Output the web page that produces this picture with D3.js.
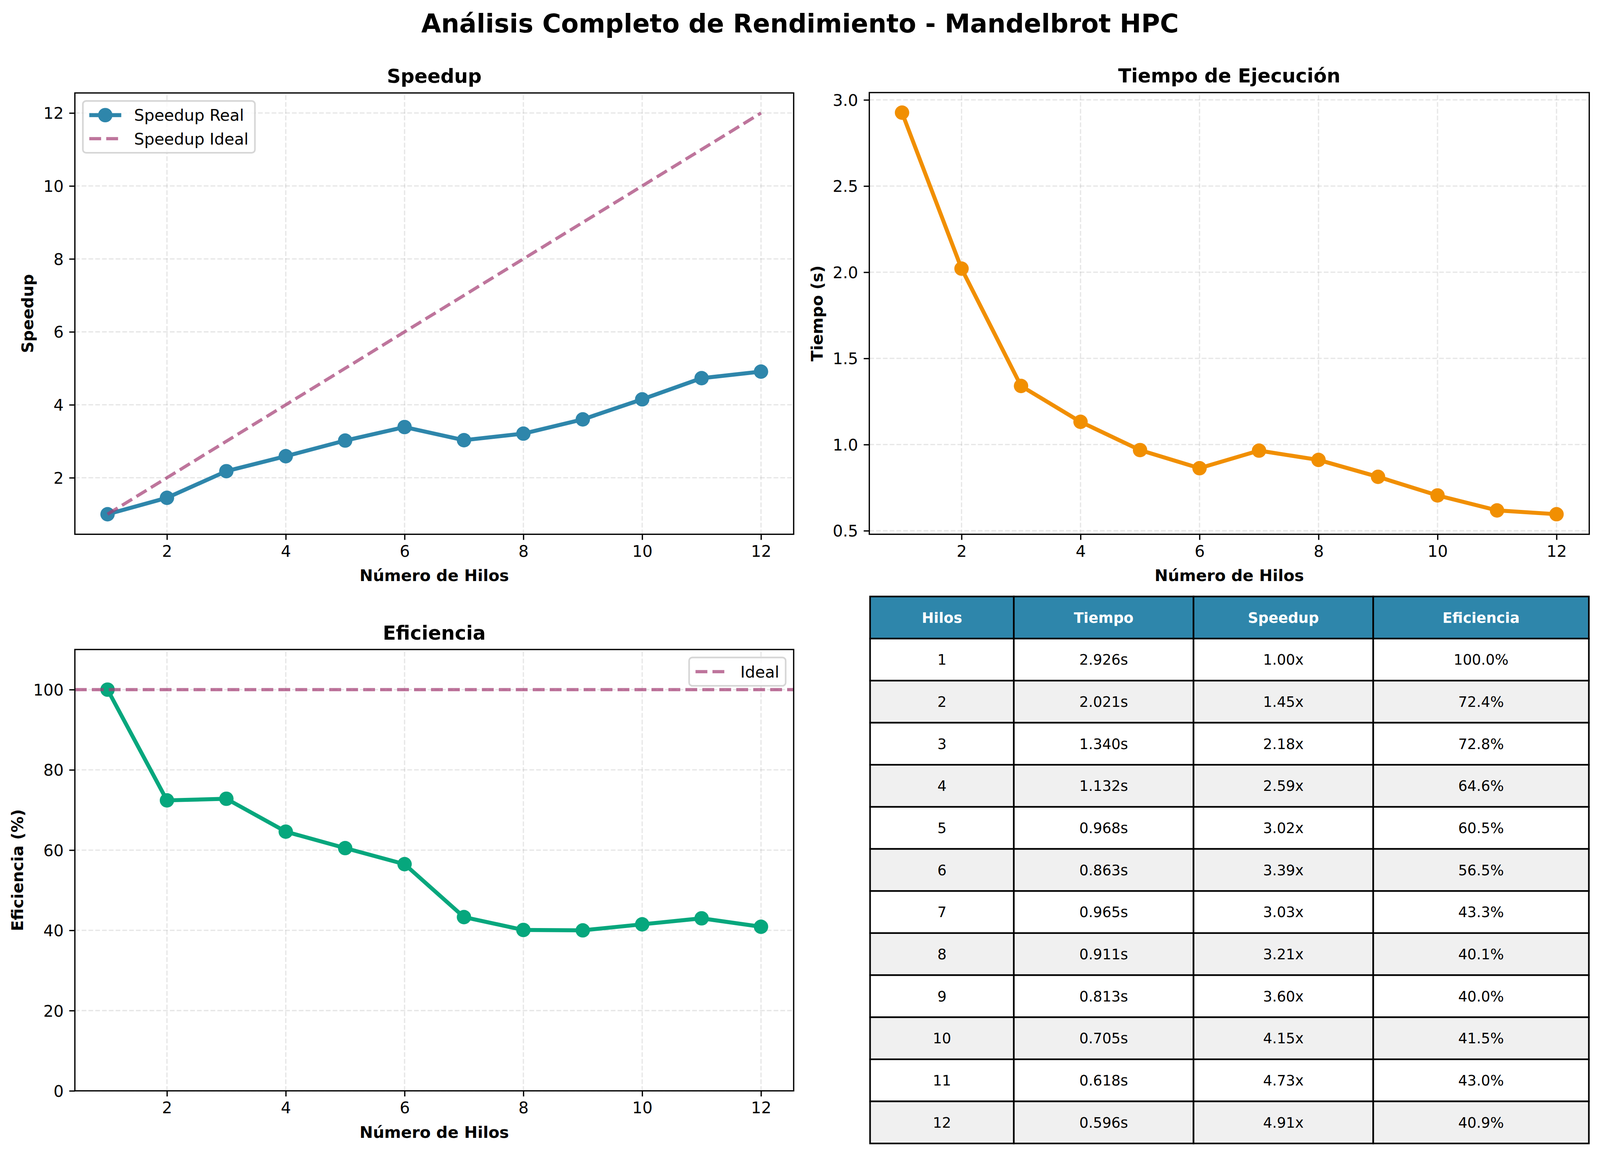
<!DOCTYPE html>
<html>
<head>
<meta charset="utf-8">
<script src="https://cdn.jsdelivr.net/npm/d3@7"></script>
<style>
  html, body { margin: 0; padding: 0; background: #fff; overflow: hidden; }
  svg { display: block; width: 100vw; height: 100vh; }
  text { font-family: "DejaVu Sans", sans-serif; }
</style>
</head>
<body>
<svg id="main"></svg>
<script>
// datos
const hilos = [1, 2, 3, 4, 5, 6, 7, 8, 9, 10, 11, 12];
const tiempo = [2.926, 2.021, 1.340, 1.132, 0.968, 0.863, 0.965, 0.911, 0.813, 0.705, 0.618, 0.596];
const speedup = [1.00, 1.45, 2.18, 2.59, 3.02, 3.39, 3.03, 3.21, 3.60, 4.15, 4.73, 4.91];
const eficiencia = [100.0, 72.4, 72.8, 64.6, 60.5, 56.5, 43.3, 40.1, 40.0, 41.5, 43.0, 40.9];
const speedupIdeal = [1, 2, 3, 4, 5, 6, 7, 8, 9, 10, 11, 12];
const eficienciaIdeal = 100;

const xTicks = [2, 4, 6, 8, 10, 12];
const speedupTicks = [2, 4, 6, 8, 10, 12];
const tiempoTicks = [0.5, 1.0, 1.5, 2.0, 2.5, 3.0];
const eficienciaTicks = [0, 20, 40, 60, 80, 100];
const eficienciaDom = [0, 110];

const columnas = ['Hilos', 'Tiempo', 'Speedup', 'Eficiencia'];
const anchoColumnas = [0.2, 0.25, 0.25, 0.3];

const AZUL = '#2E86AB', NARANJA = '#F18F01', VERDE = '#06A77D', ROSA = '#A23B72';

const W = 4167, H = 3007;
const PT = 300 / 72;          // px por punto (figura a 300 dpi)
const FS = 10 * PT;           // ticks, etiquetas
const TICK = 3.5 * PT;
const LW = 2.5 * PT;
const R = 4.5 * PT;           // radio del marcador (8 + borde)
const DASH = [3.7 * 2 * PT, 1.6 * 2 * PT].join(',');
const GRID_DASH = [3.7 * 0.8 * PT, 1.6 * 0.8 * PT].join(',');

// el viewBox ajusta la figura al ancho de la ventana, pegada arriba
svg = d3.select('#main')
  .attr('viewBox', '0 0 ' + W + ' ' + H)
  .attr('preserveAspectRatio', 'xMidYMin meet');

function pad(ext) {
  const p = (ext[1] - ext[0]) * 0.05;
  return [ext[0] - p, ext[1] + p];
}

svg.append('text')
  .attr('x', W / 2).attr('y', 84)
  .attr('text-anchor', 'middle')
  .attr('font-size', 16 * PT).attr('font-weight', 'bold')
  .text('Análisis Completo de Rendimiento - Mandelbrot HPC');

function panel(o) {
  const g = svg.append('g');
  const x = d3.scaleLinear().domain(o.xDom).range([o.l, o.r]);
  const y = d3.scaleLinear().domain(o.yDom).range([o.b, o.t]);
  const grid = g.append('g')
    .attr('stroke', '#b0b0b0').attr('stroke-opacity', 0.3)
    .attr('stroke-width', 0.8 * PT).attr('stroke-dasharray', GRID_DASH);
  grid.selectAll('.gx').data(o.xTicks).join('line')
    .attr('x1', d => x(d)).attr('x2', d => x(d))
    .attr('y1', o.b).attr('y2', o.t);
  grid.selectAll('.gy').data(o.yTicks).join('line')
    .attr('x1', o.l).attr('x2', o.r)
    .attr('y1', d => y(d)).attr('y2', d => y(d));
  const data = g.append('g');
  const top = g.append('g');

  const ax = top.append('g').attr('transform', 'translate(0,' + o.b + ')')
    .call(d3.axisBottom(x).tickValues(o.xTicks).tickSize(TICK).tickPadding(TICK));
  const ay = top.append('g').attr('transform', 'translate(' + o.l + ',0)')
    .call(d3.axisLeft(y).tickValues(o.yTicks).tickSize(TICK).tickPadding(TICK)
      .tickFormat(o.yFmt || d3.format('d')));
  [ax, ay].forEach(a => {
    a.select('.domain').remove();
    a.attr('font-size', FS).attr('font-family', '"DejaVu Sans", sans-serif');
    a.selectAll('line').attr('stroke', '#000').attr('stroke-width', 0.8 * PT);
    a.selectAll('text').attr('fill', '#000');
  });
  ay.selectAll('text').attr('dy', '0.36em');

  top.append('rect')
    .attr('x', o.l).attr('y', o.t).attr('width', o.r - o.l).attr('height', o.b - o.t)
    .attr('fill', 'none').attr('stroke', '#000').attr('stroke-width', 0.8 * PT);

  top.append('text')
    .attr('x', (o.l + o.r) / 2).attr('y', o.t - 26)
    .attr('text-anchor', 'middle').attr('font-size', 12 * PT).attr('font-weight', 'bold')
    .text(o.title);
  top.append('text')
    .attr('x', (o.l + o.r) / 2).attr('y', o.b + 122)
    .attr('text-anchor', 'middle').attr('font-size', FS).attr('font-weight', 'bold')
    .text(o.xLabel);
  let mw = 0;
  ay.selectAll('text').each(function () { mw = Math.max(mw, this.getBBox().width); });
  const xb = o.l - 2 * TICK - mw - 4 * PT - 0.236 * FS;
  top.append('text')
    .attr('transform', 'translate(' + xb + ',' + (o.t + o.b) / 2 + ') rotate(-90)')
    .attr('text-anchor', 'middle').attr('font-size', FS).attr('font-weight', 'bold')
    .text(o.yLabel);
  return { g: g, data: data, top: top, x: x, y: y, o: o };
}

function serie(p, ys, color) {
  const line = d3.line().x((d, i) => p.x(hilos[i])).y(d => p.y(d));
  p.data.append('path').datum(ys)
    .attr('d', line).attr('fill', 'none')
    .attr('stroke', color).attr('stroke-width', LW)
    .attr('stroke-linejoin', 'round').attr('stroke-linecap', 'square');
  p.data.append('g').selectAll('circle').data(ys).join('circle')
    .attr('cx', (d, i) => p.x(hilos[i])).attr('cy', d => p.y(d))
    .attr('r', R).attr('fill', color);
}

function legend(p, items, corner) {
  const o = p.o;
  const bp = 0.4 * FS, hl = 2 * FS, hp = 0.8 * FS, rowH = 0.97 * FS, ls = 0.5 * FS, ba = 0.5 * FS;
  const g = p.top.append('g');
  const box = g.append('rect');
  const texts = items.map(it => g.append('text').attr('font-size', FS).text(it.label));
  const tw = d3.max(texts, t => t.node().getComputedTextLength());
  const bw = bp + hl + hp + tw + bp;
  const bh = 2 * bp + items.length * rowH + (items.length - 1) * ls;
  const left = corner === 'left' ? o.l + ba : o.r - ba - bw;
  const topY = o.t + ba;
  box.attr('x', left).attr('y', topY).attr('width', bw).attr('height', bh)
    .attr('rx', 0.2 * FS)
    .attr('fill', '#fff').attr('fill-opacity', 0.8)
    .attr('stroke', '#cccccc').attr('stroke-opacity', 0.8).attr('stroke-width', PT);
  items.forEach((it, i) => {
    const cy = topY + bp + rowH / 2 + i * (rowH + ls);
    const x0 = left + bp;
    g.append('line')
      .attr('x1', x0).attr('x2', x0 + hl).attr('y1', cy).attr('y2', cy)
      .attr('stroke', it.color).attr('stroke-opacity', it.opacity || 1)
      .attr('stroke-width', it.lw)
      .attr('stroke-dasharray', it.dash ? DASH : null);
    if (it.marker) {
      g.append('circle').attr('cx', x0 + hl / 2).attr('cy', cy).attr('r', R).attr('fill', it.color);
    }
    texts[i].attr('x', x0 + hl + hp).attr('y', cy + 0.36 * FS);
  });
}

// Speedup
const pS = panel({
  l: 195, r: 2067, t: 242, b: 1391,
  xDom: pad(d3.extent(hilos)), yDom: pad(d3.extent(speedup.concat(speedupIdeal))),
  xTicks: xTicks, yTicks: speedupTicks,
  title: 'Speedup', xLabel: 'Número de Hilos', yLabel: 'Speedup'
});
serie(pS, speedup, AZUL);
pS.data.append('path').datum(speedupIdeal)
  .attr('d', d3.line().x((d, i) => pS.x(hilos[i])).y(d => pS.y(d)))
  .attr('fill', 'none').attr('stroke', ROSA).attr('stroke-opacity', 0.7)
  .attr('stroke-width', 2 * PT).attr('stroke-dasharray', DASH);
legend(pS, [
  { label: 'Speedup Real', color: AZUL, lw: LW, marker: true },
  { label: 'Speedup Ideal', color: ROSA, opacity: 0.7, lw: 2 * PT, dash: true }
], 'left');

// Tiempo
const pT = panel({
  l: 2264, r: 4139, t: 241, b: 1391,
  xDom: pad(d3.extent(hilos)), yDom: pad(d3.extent(tiempo)),
  xTicks: xTicks, yTicks: tiempoTicks, yFmt: d3.format('.1f'),
  title: 'Tiempo de Ejecución', xLabel: 'Número de Hilos', yLabel: 'Tiempo (s)'
});
serie(pT, tiempo, NARANJA);

// Eficiencia
const pE = panel({
  l: 195, r: 2067, t: 1691, b: 2840,
  xDom: pad(d3.extent(hilos)), yDom: eficienciaDom,
  xTicks: xTicks, yTicks: eficienciaTicks,
  title: 'Eficiencia', xLabel: 'Número de Hilos', yLabel: 'Eficiencia (%)'
});
serie(pE, eficiencia, VERDE);
pE.data.append('line')
  .attr('x1', pE.o.l).attr('x2', pE.o.r)
  .attr('y1', pE.y(eficienciaIdeal)).attr('y2', pE.y(eficienciaIdeal))
  .attr('stroke', ROSA).attr('stroke-opacity', 0.7)
  .attr('stroke-width', 2 * PT).attr('stroke-dasharray', DASH);
legend(pE, [
  { label: 'Ideal', color: ROSA, opacity: 0.7, lw: 2 * PT, dash: true }
], 'right');

// Tabla
const tabla = { l: 2266, r: 4138, t: 1553, b: 2977 };
const filas = [columnas].concat(hilos.map((h, i) => [
  String(h),
  tiempo[i].toFixed(3) + 's',
  speedup[i].toFixed(2) + 'x',
  eficiencia[i].toFixed(1) + '%'
]));
const bordes = [0].concat(Array.from(d3.cumsum(anchoColumnas)));
const cx = d3.scaleLinear().domain([0, 1]).range([tabla.l, tabla.r]);
const cy = d3.scaleBand().domain(d3.range(filas.length)).range([tabla.t, tabla.b]);

const gt = svg.append('g');
const celdas = [];
filas.forEach((f, i) => f.forEach((v, j) => celdas.push({ i: i, j: j, v: v })));
gt.selectAll('rect').data(celdas).join('rect')
  .attr('x', d => cx(bordes[d.j])).attr('y', d => cy(d.i))
  .attr('width', d => cx(bordes[d.j + 1]) - cx(bordes[d.j]))
  .attr('height', cy.bandwidth())
  .attr('fill', d => d.i === 0 ? AZUL : (d.i % 2 === 0 ? '#f0f0f0' : '#ffffff'))
  .attr('stroke', '#000').attr('stroke-width', PT);
gt.selectAll('text').data(celdas).join('text')
  .attr('x', d => (cx(bordes[d.j]) + cx(bordes[d.j + 1])) / 2)
  .attr('y', d => cy(d.i) + cy.bandwidth() / 2)
  .attr('dy', '0.36em')
  .attr('text-anchor', 'middle')
  .attr('font-size', 9 * PT)
  .attr('font-weight', d => d.i === 0 ? 'bold' : null)
  .attr('fill', d => d.i === 0 ? '#fff' : '#000')
  .text(d => d.v);
</script>
</body>
</html>
